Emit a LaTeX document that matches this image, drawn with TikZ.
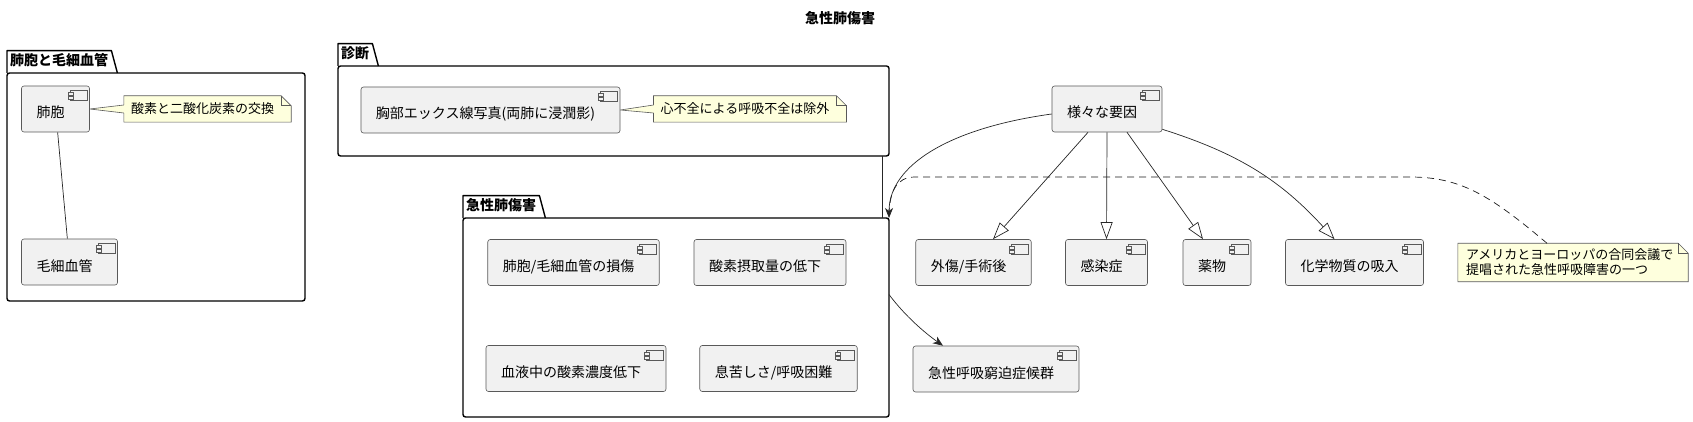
\documentclass[tikz,border=0pt]{standalone}
\usepackage{fontspec}
\setmainfont{Noto Sans CJK JP}
\usetikzlibrary{arrows.meta,backgrounds}

\definecolor{compfill}{HTML}{F1F1F1}
\definecolor{notefill}{HTML}{FEFFDD}

\newcommand\compicon[1]{%
  \draw[icon] ([shift={(-20pt,-5pt)}]#1.north east) rectangle ([shift={(-3pt,-15pt)}]#1.north east);
  \draw[icon] ([shift={(-22pt,-7pt)}]#1.north east) rectangle ([shift={(-17pt,-10pt)}]#1.north east);
  \draw[icon] ([shift={(-22pt,-11pt)}]#1.north east) rectangle ([shift={(-17pt,-14pt)}]#1.north east);
}
\newcommand\notebox[1]{%
  \filldraw[noteline] (#1.north west) -- ([xshift=-10pt]#1.north east) -- ([yshift=-10pt]#1.north east)
    -- (#1.south east) -- (#1.south west) -- cycle;
  \draw[noteline, fill=none] ([xshift=-10pt]#1.north east) |- ([yshift=-10pt]#1.north east);
}
\newcommand\notewedge[2]{%
  \fill[notefill] (#1.east) -- ([yshift=4pt]#2.west) -- ([xshift=1pt,yshift=4pt]#2.west)
    -- ([xshift=1pt,yshift=-4pt]#2.west) -- ([yshift=-4pt]#2.west) -- cycle;
  \draw[noteline, fill=none] ([yshift=4pt]#2.west) -- (#1.east) -- ([yshift=-4pt]#2.west);
}

\begin{document}
\begin{tikzpicture}[x=1pt,y=-1pt,
    font=\fontsize{14pt}{16pt}\selectfont,
    comp/.style={draw=black!65, line width=0.6pt, fill=compfill, rounded corners=2.5pt,
      inner xsep=15pt, inner ysep=0pt, text height=32pt, text depth=14pt,
      execute at end node=\hspace*{10pt}},
    icon/.style={draw=black!65, line width=0.5pt, fill=compfill},
    note/.style={inner xsep=7pt, inner ysep=0pt, text height=18pt, text depth=8pt,
      font=\fontsize{13pt}{15pt}\selectfont, execute at end node=\hspace*{10pt}},
    noteline/.style={draw=black!65, line width=0.6pt, fill=notefill},
    pkg/.style={draw, line width=1.4pt, rounded corners=2.5pt, inner sep=0pt, outer sep=0pt},
    pkgline/.style={line width=1.4pt, line join=round},
    pkgtab/.style={anchor=south west, inner xsep=3pt, inner ysep=0pt, text height=15pt,
      text depth=7pt, font=\fontsize{14pt}{16pt}\selectfont\bfseries},
    edge/.style={draw=black!85, line width=0.7pt},
    gen/.style={edge, -{Triangle[open, length=17pt, width=12pt]}},
    dep/.style={edge, -{Stealth[length=10pt, width=8pt, inset=3pt]}},
    notelink/.style={draw=black!90, line width=0.7pt, dash pattern=on 7pt off 5pt}]
  \useasboundingbox (0,0) rectangle (1693,422);

  \node[font=\fontsize{14pt}{16pt}\selectfont\bfseries] (title) at (840,18) {急性肺傷害};

  \node[pkg, minimum width=298pt, minimum height=228pt] (pkA) at (156,187) {};
  \node[pkg, minimum width=551pt, minimum height=90pt] (pkB) at (613.5,111) {};
  \node[pkg, minimum width=426pt, minimum height=199pt] (pkC) at (676,317.5) {};
  \node[pkgtab] (tabA) at (pkA.north west) {肺胞と毛細血管};
  \node[pkgtab] (tabB) at (pkB.north west) {診断};
  \node[pkgtab] (tabC) at (pkC.north west) {急性肺傷害};
  \foreach \t in {tabA,tabB,tabC} {
    \draw[pkgline] (\t.south west) |- (\t.north east) -- ([xshift=6pt]\t.south east);
  }

  \node[comp] (alv) at (55.5,109) {肺胞};
  \node[comp] (cap) at (69.5,262) {毛細血管};
  \node[comp] (xray) at (490.5,110) {胸部エックス線写真(両肺に浸潤影)};
  \node[comp] (dmg) at (573.5,262.5) {肺胞/毛細血管の損傷};
  \node[comp] (intake) at (770,262.5) {酸素摂取量の低下};
  \node[comp] (blood) at (576,368.5) {血液中の酸素濃度低下};
  \node[comp] (dysp) at (778.5,368.5) {息苦しさ/呼吸困難};
  \node[comp] (causes) at (1107,109) {様々な要因};
  \node[comp] (trauma) at (973.5,262.5) {外傷/手術後};
  \node[comp] (infect) at (1106.5,262.5) {感染症};
  \node[comp] (drug) at (1217,262.5) {薬物};
  \node[comp] (chem) at (1354.5,262.5) {化学物質の吸入};
  \node[comp] (ards) at (996,369) {急性呼吸窮迫症候群};
  \foreach \c in {alv,cap,xray,dmg,intake,blood,dysp,causes,trauma,infect,drug,chem,ards} {
    \compicon{\c}
  }

  \node[note] (nA) at (207.5,109) {酸素と二酸化炭素の交換};
  \node[note] (nB) at (750,109) {心不全による呼吸不全は除外};
  \node[inner xsep=8pt, inner ysep=5.5pt, text width=214pt, align=left,
    font=\fontsize{13pt}{15pt}\selectfont] (nC) at (1573,262.5)
    {アメリカとヨーロッパの合同会議で\\提唱された急性呼吸障害の一つ};
  \begin{scope}[on background layer]
    \foreach \n in {nA,nB,nC} {\notebox{\n}}
    \notewedge{alv}{nA}
    \notewedge{xray}{nB}
  \end{scope}

  \draw[edge] (alv) -- (cap);
  \draw[edge] ([xshift=-7pt]pkB.south east) -- ([xshift=-7pt]pkC.north east);
  \draw[notelink] ([xshift=-26pt]nC.north) .. controls (1490,195) and (1460,177) .. (1410,177)
    -- (915,177) .. controls (896,177) and (889,192) .. (pkC.north east);
  \draw[dep] ([yshift=-5pt]causes.west) .. controls (950,128) and (889,165) .. (pkC.north east);
  \draw[dep] ([yshift=23pt]pkC.east) .. controls (905,316) and (925,333) .. ([xshift=-53pt]ards.north);
  \draw[gen] ([xshift=-19pt]causes.south) -- ([xshift=19.5pt]trauma.north);
  \draw[gen] (causes.south) -- (infect.north);
  \draw[gen] ([xshift=20pt]causes.south) -- ([xshift=-14pt]drug.north);
  \draw[gen] ([yshift=3pt]causes.south east) to[bend left=15] ([xshift=-20pt]chem.north);
\end{tikzpicture}
\end{document}
